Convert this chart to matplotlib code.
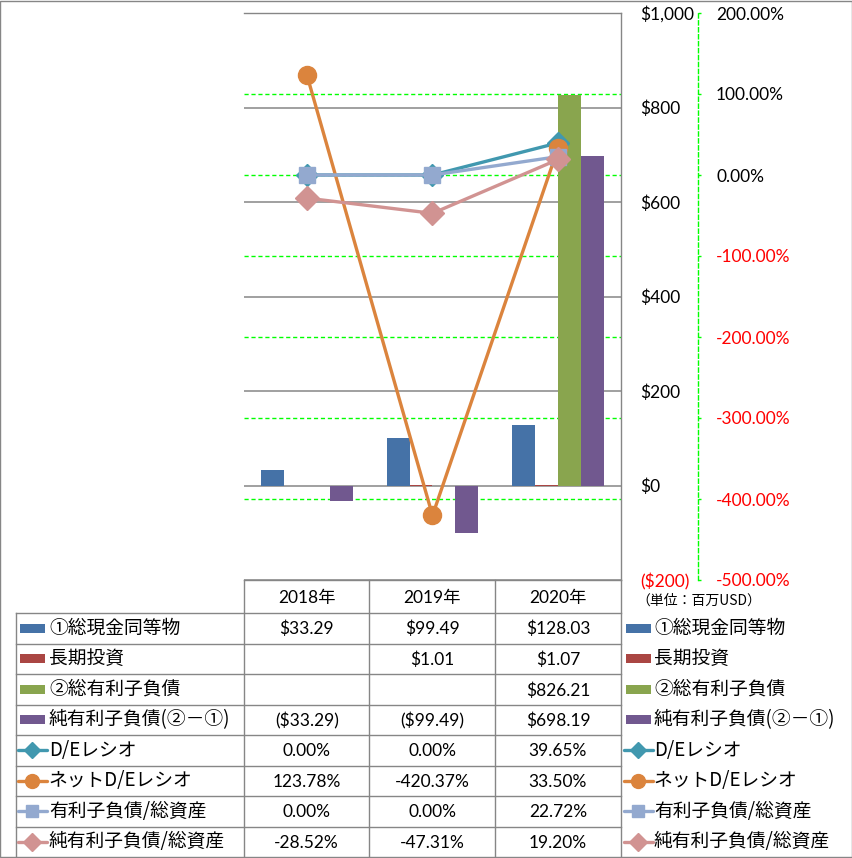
import matplotlib
matplotlib.use('Agg')
import matplotlib.pyplot as plt
from matplotlib.transforms import blended_transform_factory
from matplotlib.patches import Rectangle
from matplotlib.lines import Line2D
import numpy as np

# ---------------- data ----------------
years = ['2018年', '2019年', '2020年']
bar_names = ['①総現金同等物', '長期投資', '②総有利子負債', '純有利子負債(②－①)']
cash = [33.29, 99.49, 128.03]
lt_invest = [np.nan, 1.01, 1.07]
total_debt = [np.nan, np.nan, 826.21]
net_debt = [-33.29, -99.49, 698.19]
line_names = ['D/Eレシオ', 'ネットD/Eレシオ', '有利子負債/総資産', '純有利子負債/総資産']
de_ratio = [0.00, 0.00, 39.65]
net_de_ratio = [123.78, -420.37, 33.50]
debt_to_assets = [0.00, 0.00, 22.72]
net_debt_to_assets = [-28.52, -47.31, 19.20]
usd_ticks = [-200, 0, 200, 400, 600, 800, 1000]
pct_ticks = [-500, -400, -300, -200, -100, 0, 100, 200]
unit_label = '（単位：百万USD）'

# ---------------- style ----------------
bar_colors = ['#4572A7', '#AA4643', '#89A54E', '#71588F']
line_colors = ['#4198AF', '#DB843D', '#93A9CF', '#D19392']
line_markers = ['D', 'o', 's', 'D']
marker_sizes = [11, 13, 11, 12]
grid_gray = '#868686'
green = '#00FF00'
jp = ['Noto Sans CJK JP', 'DejaVu Sans']
num = ['Lato', 'Noto Sans CJK JP', 'DejaVu Sans']
plt.rcParams['font.family'] = jp

W, H = 853, 858
DPI = 100
fig = plt.figure(figsize=(W / DPI, H / DPI), dpi=DPI)
fig.patch.set_facecolor('white')

PL, PR, PT, PB = 244, 621, 13, 580
ax = fig.add_axes([PL / W, (H - PB) / H, (PR - PL) / W, (PB - PT) / H])
ax2 = ax.twinx()

x = np.arange(len(years))
bw = 0.183
bar_series = [cash, lt_invest, total_debt, net_debt]
for k, (vals, c) in enumerate(zip(bar_series, bar_colors)):
    ax.bar(x + (k - 1.5) * bw, vals, width=bw, color=c, zorder=2, linewidth=0)

ax.set_xlim(-0.5, len(years) - 0.5)
ax.set_ylim(usd_ticks[0], usd_ticks[-1])
ax.yaxis.tick_right()
ax.tick_params(axis='y', length=0, pad=19 * 0.72)
ax.set_yticks(usd_ticks)
ax.set_yticklabels([('($%s)' % format(-v, ',')) if v < 0 else ('$%s' % format(v, ',')) for v in usd_ticks],
                   fontsize=12.5, family=num)
for tk, v in zip(ax.yaxis.get_major_ticks(), usd_ticks):
    tk.label2.set_color('red' if v < 0 else 'black')
    tk.label2.set_fontsize(12.5)
    tk.label2.set_family(num)
ax.set_xticks([])
ax.set_axisbelow(True)
ax.yaxis.grid(True, color=grid_gray, linewidth=1.1, zorder=0)
ax.spines['left'].set_visible(False)
for s in ['right', 'top', 'bottom']:
    ax.spines[s].set_color(grid_gray)
    ax.spines[s].set_linewidth(1.0)

# secondary axis
line_series = [de_ratio, net_de_ratio, debt_to_assets, net_debt_to_assets]
for vals, c, m, ms in zip(line_series, line_colors, line_markers, marker_sizes):
    ax2.plot(x, vals, color=c, linewidth=2.4, marker=m, markersize=ms,
             markeredgecolor=c, markerfacecolor=c, zorder=3)
for s in ['left', 'top', 'bottom']:
    ax2.spines[s].set_visible(False)
ax2.spines['right'].set_position(('outward', 77 * 0.72))
ax2.spines['right'].set_color(green)
ax2.spines['right'].set_linestyle((0, (3, 2)))
ax2.spines['right'].set_linewidth(1.0)
ax2.set_ylim(pct_ticks[0], pct_ticks[-1])
ax2.tick_params(axis='y', direction='out', length=2.5, color=green, width=1.0, pad=10.5)
ax2.set_yticks(pct_ticks)
ax2.set_yticklabels(['%.2f%%' % v for v in pct_ticks], fontsize=12.5, family=num)
for tk, v in zip(ax2.yaxis.get_major_ticks(), pct_ticks):
    tk.label2.set_color('red' if v < 0 else 'black')
    tk.label2.set_fontsize(12.5)
    tk.label2.set_family(num)

# green dashed secondary gridlines, drawn behind bars
bt = blended_transform_factory(ax.transAxes, ax2.transData)
for t in pct_ticks[1:-1]:
    ax.plot([0, 1], [t, t], transform=bt, color=green, linestyle=(0, (3, 2)),
            linewidth=1.0, zorder=1.5)

# ---------------- data table & legend (pixel overlay) ----------------
ov = fig.add_axes([0, 0, 1, 1])
ov.set_xlim(0, W)
ov.set_ylim(H, 0)
ov.axis('off')

lk = dict(color=grid_gray, linewidth=1.0)
cols = [244, 369.5, 495, 621]
rows = [613, 643.5, 674, 704.5, 735, 765.5, 796, 826.5, 857]
ov.add_patch(Rectangle((0.5, 0.5), W - 1.5, H - 1.5, fill=False, edgecolor=grid_gray, linewidth=1.0))
for cx in cols:
    ov.plot([cx, cx], [PB, rows[-1]], **lk)
ov.plot([16, 16], [rows[0], rows[-1]], **lk)
for ry in rows[:-1]:
    ov.plot([16, 621], [ry, ry], **lk)

for i, yl in enumerate(years):
    ov.text((cols[i] + cols[i + 1]) / 2, (PB + rows[0]) / 2 + 1, yl, ha='center', va='center',
            fontsize=12.5, family=num)

def fmt_usd(v):
    if np.isnan(v):
        return ''
    return '(${:,.2f})'.format(-v) if v < 0 else '${:,.2f}'.format(v)

def fmt_pct(v):
    return '{:.2f}%'.format(v)

all_names = bar_names + line_names
all_rows = [[fmt_usd(v) for v in s] for s in bar_series] + [[fmt_pct(v) for v in s] for s in line_series]

for r, (name, cells) in enumerate(zip(all_names, all_rows)):
    cy = (rows[r] + rows[r + 1]) / 2
    for i, txt in enumerate(cells):
        ov.text((cols[i] + cols[i + 1]) / 2, cy + 1, txt, ha='center', va='center',
                fontsize=12.5, family=num)
    for kx0, tx in [(19, 49), (625, 654)]:
        if r < 4:
            ov.add_patch(Rectangle((kx0 + 1, cy - 4.5), 25, 9, color=bar_colors[r], linewidth=0))
        else:
            k = r - 4
            ov.add_line(Line2D([kx0 - 1, kx0 + 28], [cy, cy], color=line_colors[k], linewidth=2.4,
                               solid_capstyle='round'))
            ov.add_line(Line2D([kx0 + 13.5], [cy], color=line_colors[k], marker=line_markers[k],
                               markersize=marker_sizes[k] - 3, linestyle='none'))
        ov.text(tx, cy, name, ha='left', va='center', fontsize=13.5, family=jp)

ov.text(636, 601, unit_label, ha='left', va='center', fontsize=10, family=jp)

fig.savefig('out.png', dpi=DPI, facecolor='white')
